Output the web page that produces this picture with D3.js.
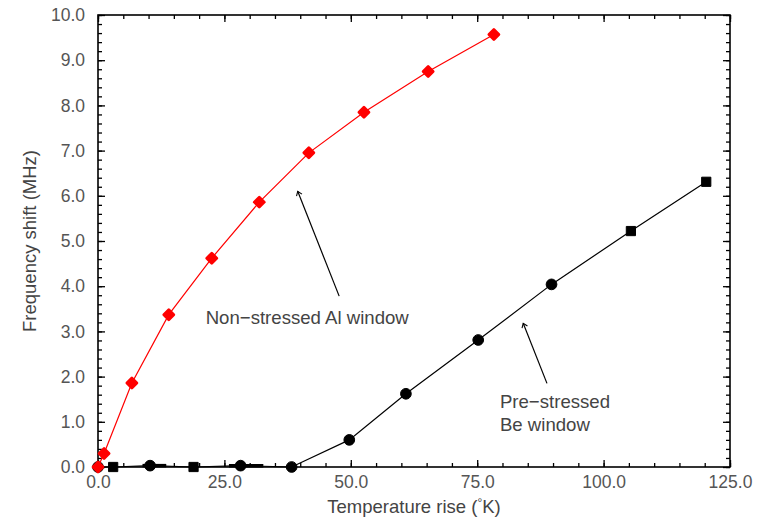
<!DOCTYPE html>
<meta charset="utf-8">
<script src="https://d3js.org/d3.v7.min.js"></script>
<style>
    body { margin: 0; background: #fff; }
    .tick text { font-family: 'Liberation Sans', Arial, sans-serif; font-size: 17.5px; fill: #555; }
    .tick line { stroke: #000; stroke-width: 1.3px; }
    .title { font-family: 'Liberation Sans', Arial, sans-serif; font-size: 18.5px; fill: #444; }
    .note { font-family: 'Liberation Sans', Arial, sans-serif; font-size: 18.6px; fill: #444; }
</style>
<div id="chart"></div>
<script>
    // Non-stressed Al window (red)
    const tempAl  = [0, 1.2, 6.7, 14.0, 22.5, 31.9, 41.7, 52.6, 65.3, 78.3];
    const shiftAl = [0.0, 0.30, 1.86, 3.37, 4.62, 5.86, 6.95, 7.85, 8.75, 9.57];

    // Pre-stressed Be window (black)
    const tempBe  = [0, 3.0, 10.3, 18.9, 28.2, 38.3, 49.7, 60.9, 75.2, 89.7, 105.4, 120.3];
    const shiftBe = [0.0, 0.0, 0.03, 0.0, 0.03, 0.0, 0.60, 1.62, 2.81, 4.04, 5.22, 6.31];
    const shapeBe = ["circle", "square", "circle", "square", "circle", "circle",
                     "circle", "circle", "circle", "circle", "square", "square"];
    // small horizontal error bars on two of the flat points (K)
    const errLoBe = [0, 0, 1.5, 0, 2.3, 0, 0, 0, 0, 0, 0, 0];
    const errHiBe = [0, 0, 3.2, 0, 4.5, 0, 0, 0, 0, 0, 0, 0];

    const xMajor = [0, 25, 50, 75, 100, 125];
    const yMajor = [0, 1, 2, 3, 4, 5, 6, 7, 8, 9, 10];

    const width = 761, height = 524;
    const margin = {top: 15, right: 31, bottom: 57, left: 98};

    let svg = d3.select("#chart")
        .append("svg")
        .attr("width", width)
        .attr("height", height);

    let x = d3.scaleLinear()
        .domain([0, 125])
        .range([margin.left, width - margin.right]);

    let y = d3.scaleLinear()
        .domain([0, 10])
        .range([height - margin.bottom, margin.top]);

    const x0 = x(0), x1 = x(125), y0 = y(0), y1 = y(10);

    // minor ticks, all four sides, pointing inward
    const xMinor = d3.range(0, 125.01, 5);
    const yMinor = d3.range(0, 10.01, 0.2);

    function addAxis(axis, tx, ty) {
        let g = svg.append("g")
            .attr("transform", "translate(" + tx + "," + ty + ")")
            .call(axis);
        g.select(".domain").remove();
        return g;
    }

    addAxis(d3.axisBottom(x).tickValues(xMinor).tickSize(-4).tickFormat(""), 0, y0);
    addAxis(d3.axisTop(x).tickValues(xMinor).tickSize(-4).tickFormat(""), 0, y1);
    addAxis(d3.axisLeft(y).tickValues(yMinor).tickSize(-4).tickFormat(""), x0, 0);
    addAxis(d3.axisRight(y).tickValues(yMinor).tickSize(-4).tickFormat(""), x1, 0);

    addAxis(d3.axisBottom(x).tickValues(xMajor).tickSize(-7).tickPadding(9).tickFormat(d3.format(".1f")), 0, y0);
    addAxis(d3.axisTop(x).tickValues(xMajor).tickSize(-7).tickFormat(""), 0, y1);
    addAxis(d3.axisLeft(y).tickValues(yMajor).tickSize(-7).tickPadding(13).tickFormat(d3.format(".1f")), x0, 0);
    addAxis(d3.axisRight(y).tickValues(yMajor).tickSize(-7).tickFormat(""), x1, 0);

    // frame
    svg.append("rect")
        .attr("x", x0)
        .attr("y", y1)
        .attr("width", x1 - x0)
        .attr("height", y0 - y1)
        .attr("fill", "none")
        .attr("stroke", "#000")
        .attr("stroke-width", 1.6);

    // axis titles
    svg.append("text")
        .attr("class", "title")
        .attr("text-anchor", "middle")
        .attr("transform", "translate(36," + ((y0 + y1) / 2) + ") rotate(-90)")
        .text("Frequency shift (MHz)");

    let xt = svg.append("text")
        .attr("class", "title")
        .attr("text-anchor", "middle")
        .attr("x", (x0 + x1) / 2)
        .attr("y", 513);
    xt.append("tspan").text("Temperature rise (");
    xt.append("tspan").attr("dy", -6).style("font-size", "12px").text("°");
    xt.append("tspan").attr("dy", 6).text("K)");

    let line = d3.line()
        .x(function (d) { return x(d.t); })
        .y(function (d) { return y(d.f); });

    let be = tempBe.map(function (t, i) {
        return {t: t, f: shiftBe[i], shape: shapeBe[i], lo: errLoBe[i], hi: errHiBe[i]};
    });
    let al = tempAl.map(function (t, i) {
        return {t: t, f: shiftAl[i]};
    });

    // Be series
    svg.append("path")
        .datum(be)
        .attr("d", line)
        .attr("fill", "none")
        .attr("stroke", "#000")
        .attr("stroke-width", 1.2);

    svg.selectAll("errbar")
        .data(be.filter(function (d) { return d.lo > 0 || d.hi > 0; }))
        .enter()
        .append("line")
        .attr("x1", function (d) { return x(d.t - d.lo); })
        .attr("x2", function (d) { return x(d.t + d.hi); })
        .attr("y1", function (d) { return y(d.f); })
        .attr("y2", function (d) { return y(d.f); })
        .attr("stroke", "#000")
        .attr("stroke-width", 3.5);

    svg.selectAll("bemark")
        .data(be)
        .enter()
        .append("path")
        .attr("transform", function (d) { return "translate(" + x(d.t) + "," + y(d.f) + ")"; })
        .attr("d", function (d) {
            if (d.shape === "square") {
                return d3.symbol(d3.symbolSquare, 85)();
            }
            return d3.symbol(d3.symbolCircle, 90)();
        })
        .attr("fill", "#000")
        .attr("stroke", "#000")
        .attr("stroke-width", 1)
        .attr("stroke-linejoin", "round");

    // Al series
    svg.append("path")
        .datum(al)
        .attr("d", line)
        .attr("fill", "none")
        .attr("stroke", "#f00")
        .attr("stroke-width", 1.2);

    svg.selectAll("almark")
        .data(al)
        .enter()
        .append("path")
        .attr("transform", function (d) { return "translate(" + x(d.t) + "," + y(d.f) + ") rotate(45)"; })
        .attr("d", d3.symbol(d3.symbolSquare, 50)())
        .attr("fill", "#f00")
        .attr("stroke", "#f00")
        .attr("stroke-width", 2.8)
        .attr("stroke-linejoin", "round");

    // annotations
    svg.append("defs").append("marker")
        .attr("id", "head")
        .attr("viewBox", "-6 -6 12 12")
        .attr("refX", 0)
        .attr("refY", 0)
        .attr("markerWidth", 10)
        .attr("markerHeight", 10)
        .attr("markerUnits", "userSpaceOnUse")
        .attr("orient", "auto")
        .append("path")
        .attr("d", "M-5,-3.5L0,0L-5,3.5")
        .attr("fill", "none")
        .attr("stroke", "#000")
        .attr("stroke-width", 1.3);

    // arrow ends given in data units
    const arrows = [
        {from: [47.7, 3.78], to: [39.5, 6.10]},
        {from: [88.8, 1.85], to: [84.1, 3.18]}
    ];
    svg.selectAll("arrow")
        .data(arrows)
        .enter()
        .append("line")
        .attr("x1", function (d) { return x(d.from[0]); })
        .attr("y1", function (d) { return y(d.from[1]); })
        .attr("x2", function (d) { return x(d.to[0]); })
        .attr("y2", function (d) { return y(d.to[1]); })
        .attr("stroke", "#000")
        .attr("stroke-width", 1.2)
        .attr("marker-end", "url(#head)");

    svg.append("text")
        .attr("class", "note")
        .attr("x", x(21.3))
        .attr("y", y(3.16))
        .text("Non\u2212stressed Al window");

    let nb = svg.append("text")
        .attr("class", "note")
        .attr("x", x(79.5))
        .attr("y", y(1.3));
    nb.append("tspan").text("Pre\u2212stressed");
    nb.append("tspan").attr("x", x(79.5)).attr("dy", 23).text("Be window");
</script>
